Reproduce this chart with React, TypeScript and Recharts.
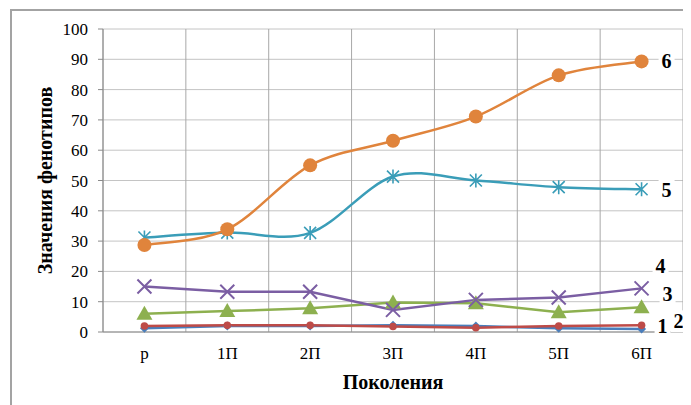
import React from 'react';
import { LineChart, Line, XAxis, YAxis, CartesianGrid, ReferenceLine, LabelList, Label } from 'recharts';

const categories = ['р', '1П', '2П', '3П', '4П', '5П', '6П'];
const series1 = [1.2, 2.0, 2.0, 2.2, 2.0, 1.2, 1.0];
const series2 = [2.0, 2.2, 2.2, 1.8, 1.4, 2.0, 2.2];
const series3 = [6.0, 6.9, 7.8, 9.7, 9.5, 6.5, 8.2];
const series4 = [15.0, 13.3, 13.3, 7.3, 10.6, 11.4, 14.4];
const series5 = [31.2, 32.8, 32.7, 51.3, 50.0, 47.8, 47.1];
const series6 = [28.7, 33.9, 55.0, 63.1, 71.1, 84.7, 89.3];
const yTicks = [0, 10, 20, 30, 40, 50, 60, 70, 80, 90, 100];
const seriesNames = ['1', '2', '3', '4', '5', '6'];

const data = categories.map((c, i) => ({
  i,
  cat: c,
  s1: series1[i],
  s2: series2[i],
  s3: series3[i],
  s4: series4[i],
  s5: series5[i],
  s6: series6[i],
}));

const boundaries = categories.map((_, i) => i + 0.5).concat([-0.5]);

const FONT = '"Liberation Serif", "Times New Roman", serif';

// Excel-like smoothed line (Catmull-Rom style bezier)
const excelCurve: any = (context: any) => {
  let pts: number[][] = [];
  return {
    areaStart() {},
    areaEnd() {},
    lineStart() {
      pts = [];
    },
    point(x: number, y: number) {
      pts.push([+x, +y]);
    },
    lineEnd() {
      if (!pts.length) return;
      context.moveTo(pts[0][0], pts[0][1]);
      for (let k = 0; k < pts.length - 1; k++) {
        const p0 = pts[k - 1] || pts[k];
        const p1 = pts[k];
        const p2 = pts[k + 1];
        const p3 = pts[k + 2] || p2;
        const c1x = p1[0] + (p2[0] - p0[0]) / 6;
        const c1y = p1[1] + (p2[1] - p0[1]) / 6;
        const c2x = p2[0] - (p3[0] - p1[0]) / 6;
        const c2y = p2[1] - (p3[1] - p1[1]) / 6;
        context.bezierCurveTo(c1x, c1y, c2x, c2y, p2[0], p2[1]);
      }
    },
  };
};

const C1 = '#4a7ebb';
const C2 = '#be4b48';
const C3 = '#8db04f';
const C4 = '#7b5ea3';
const C5 = '#3a9db8';
const C6 = '#e0843c';

const diamondDot = (p: any) => (
  <path key={p.index} d={`M${p.cx},${p.cy - 4.5}L${p.cx + 4.5},${p.cy}L${p.cx},${p.cy + 4.5}L${p.cx - 4.5},${p.cy}Z`} fill={C1} />
);
const smallCircleDot = (p: any) => <circle key={p.index} cx={p.cx} cy={p.cy} r={3.8} fill={C2} />;
const triangleDot = (p: any) => (
  <path key={p.index} d={`M${p.cx},${p.cy - 8}L${p.cx + 8},${p.cy + 6}L${p.cx - 8},${p.cy + 6}Z`} fill={C3} />
);
const xDot = (p: any) => (
  <path key={p.index} d={`M${p.cx - 7},${p.cy - 7}L${p.cx + 7},${p.cy + 7}M${p.cx - 7},${p.cy + 7}L${p.cx + 7},${p.cy - 7}`} stroke={C4} strokeWidth={2} fill="none" />
);
const starDot = (p: any) => (
  <path key={p.index} d={`M${p.cx - 6},${p.cy - 6}L${p.cx + 6},${p.cy + 6}M${p.cx - 6},${p.cy + 6}L${p.cx + 6},${p.cy - 6}M${p.cx},${p.cy - 7}L${p.cx},${p.cy + 7}`} stroke={C5} strokeWidth={1.6} fill="none" />
);
const bigCircleDot = (p: any) => <circle key={p.index} cx={p.cx} cy={p.cy} r={7} fill={C6} />;

const makeLabel = (text: string, dx: number, dy: number) => (props: any) => {
  if (props.index !== categories.length - 1) return null;
  const x = Number(props.x) + dx;
  const y = Number(props.y) + dy;
  return (
    <g>
      <rect x={x - 8} y={y - 11} width={16} height={22} fill="#ffffff" />
      <text x={x} y={y} textAnchor="middle" dominantBaseline="central" fontFamily={FONT} fontWeight="bold" fontSize={20} fill="#000">
        {text}
      </text>
    </g>
  );
};

export default function App() {
  return (
    <div style={{ position: 'relative', width: 683, height: 397, overflow: 'hidden', background: '#fff' }}>
      <div
        style={{
          position: 'absolute',
          left: 2,
          top: 1,
          width: 720,
          height: 440,
          border: '2px solid #a3a3a3',
          boxSizing: 'border-box',
        }}
      />
      <div style={{ position: 'absolute', left: 0, top: 0 }}>
        <LineChart width={683} height={397} data={data} margin={{ top: 21, right: 8, left: 0, bottom: 0 }}>
          <CartesianGrid vertical={false} stroke="#c4c4c4" strokeWidth={1} />
          {boundaries.map((b) => (
            <ReferenceLine key={b} x={b} stroke="#a8a8a8" strokeWidth={1} />
          ))}
          <XAxis
            dataKey="i"
            type="number"
            domain={[-0.5, 6.5]}
            ticks={data.map((d) => d.i)}
            tickFormatter={(v: number) => categories[v] ?? ''}
            height={73}
            axisLine={{ stroke: '#8a8a8a' }}
            tickLine={false}
            tickSize={6}
            tickMargin={9}
            tick={{ fontFamily: FONT, fontSize: 17, fill: '#000' }}
            allowDataOverflow
          >
            <Label
              content={(p: any) => (
                <text
                  x={p.viewBox.x + p.viewBox.width / 2}
                  y={p.viewBox.y + 50}
                  textAnchor="middle"
                  dominantBaseline="central"
                  fontFamily={FONT}
                  fontWeight="bold"
                  fontSize={20}
                  fill="#000"
                >
                  Поколения
                </text>
              )}
            />
          </XAxis>
          <YAxis
            type="number"
            domain={[0, 100]}
            ticks={yTicks}
            width={95}
            axisLine={{ stroke: '#8a8a8a' }}
            tickLine={{ stroke: '#8a8a8a' }}
            tickSize={5}
            tickMargin={10}
            tick={{ fontFamily: FONT, fontSize: 17, fill: '#000' }}
            interval={0}
          >
            <Label
              content={(p: any) => {
                const cx = p.viewBox.x + 37;
                const cy = p.viewBox.y + p.viewBox.height / 2;
                return (
                  <text
                    x={cx}
                    y={cy}
                    transform={`rotate(-90, ${cx}, ${cy})`}
                    textAnchor="middle"
                    dominantBaseline="central"
                    fontFamily={FONT}
                    fontWeight="bold"
                    fontSize={20}
                    fill="#000"
                  >
                    Значения фенотипов
                  </text>
                );
              }}
            />
          </YAxis>
          <Line dataKey="s1" name={seriesNames[0]} stroke={C1} strokeWidth={2.5} type="linear" dot={diamondDot} isAnimationActive={false}>
            <LabelList dataKey="s1" content={makeLabel(seriesNames[0], 21, -3)} />
          </Line>
          <Line dataKey="s2" name={seriesNames[1]} stroke={C2} strokeWidth={2.5} type="linear" dot={smallCircleDot} isAnimationActive={false}>
            <LabelList dataKey="s2" content={makeLabel(seriesNames[1], 37, -4)} />
          </Line>
          <Line dataKey="s3" name={seriesNames[2]} stroke={C3} strokeWidth={2.5} type="linear" dot={triangleDot} isAnimationActive={false}>
            <LabelList dataKey="s3" content={makeLabel(seriesNames[2], 26, -13)} />
          </Line>
          <Line dataKey="s4" name={seriesNames[3]} stroke={C4} strokeWidth={2.5} type="linear" dot={xDot} isAnimationActive={false}>
            <LabelList dataKey="s4" content={makeLabel(seriesNames[3], 19, -22)} />
          </Line>
          <Line dataKey="s5" name={seriesNames[4]} stroke={C5} strokeWidth={2.5} type={excelCurve} dot={starDot} isAnimationActive={false}>
            <LabelList dataKey="s5" content={makeLabel(seriesNames[4], 25, 1)} />
          </Line>
          <Line dataKey="s6" name={seriesNames[5]} stroke={C6} strokeWidth={2.5} type={excelCurve} dot={bigCircleDot} isAnimationActive={false}>
            <LabelList dataKey="s6" content={makeLabel(seriesNames[5], 25, 0)} />
          </Line>
        </LineChart>
      </div>
    </div>
  );
}
